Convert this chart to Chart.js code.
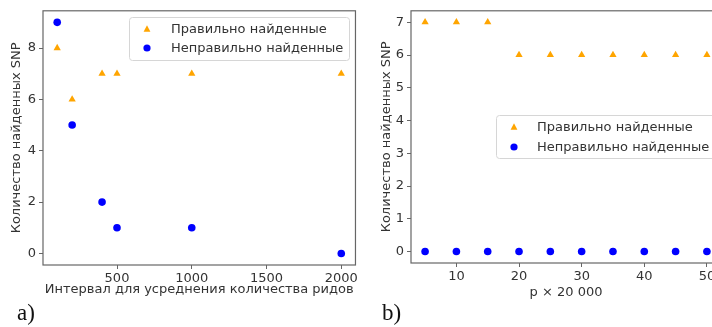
<!DOCTYPE html>
<html lang="ru">
<head>
    <meta charset="UTF-8">
    <title>SNP</title>
    <script src="https://cdn.jsdelivr.net/npm/chart.js"></script>
    <style>
        body {
            margin: 0;
            width: 712px;
            height: 327px;
            overflow: hidden;
            background: #fff;
            position: relative;
        }
        canvas {
            position: absolute;
            top: 0;
        }
        #chartA { left: 0; }
        #chartB { left: 360px; }
        .panel {
            position: absolute;
            top: 300px;
            font-family: "Liberation Serif", serif;
            font-size: 23px;
            color: #111;
        }
    </style>
</head>
<body>
    <canvas id="chartA" width="360" height="305"></canvas>
    <canvas id="chartB" width="370" height="305"></canvas>
    <div class="panel" style="left:17px">a)</div>
    <div class="panel" style="left:382px">b)</div>

    <script>
        // panel a)
        const intervals = [100, 200, 400, 500, 1000, 2000];
        const correctA = [8, 6, 7, 7, 7, 7];
        const wrongA = [9, 5, 2, 1, 1, 0];
        const xTicksA = [500, 1000, 1500, 2000];
        const yTicksA = [0, 2, 4, 6, 8];

        // panel b)
        const pValues = [5, 10, 15, 20, 25, 30, 35, 40, 45, 50];
        const correctB = [7, 7, 7, 6, 6, 6, 6, 6, 6, 6];
        const wrongB = [0, 0, 0, 0, 0, 0, 0, 0, 0, 0];
        const xTicksB = [10, 20, 30, 40, 50];
        const yTicksB = [0, 1, 2, 3, 4, 5, 6, 7];

        const labelCorrect = 'Правильно найденные';
        const labelWrong = 'Неправильно найденные';
        const ORANGE = '#ffa500';
        const BLUE = '#0000ff';
        const FRAME = '#666';
        const TEXT = '#333';

        Chart.defaults.font.family = '"DejaVu Sans", sans-serif';
        Chart.defaults.font.size = 13;
        Chart.defaults.color = TEXT;

        function pts(xs, ys) {
            return xs.map((x, i) => ({ x: x, y: ys[i] }));
        }

        // frame around the plot area (matplotlib spines)
        const framePlugin = {
            id: 'frame',
            afterDraw(chart) {
                const a = chart.chartArea, ctx = chart.ctx;
                ctx.save();
                ctx.strokeStyle = FRAME;
                ctx.lineWidth = 1.2;
                ctx.strokeRect(a.left, a.top, a.right - a.left, a.bottom - a.top);
                ctx.restore();
            }
        };

        // legend box drawn inside the plot, like plt.legend()
        const boxLegend = {
            id: 'boxLegend',
            afterDraw(chart, args, opts) {
                if (!opts.box) return;
                const ctx = chart.ctx, b = opts.box;
                ctx.save();
                ctx.fillStyle = 'rgba(255,255,255,0.85)';
                ctx.strokeStyle = '#d6d6d6';
                ctx.lineWidth = 1;
                ctx.beginPath();
                ctx.roundRect(b.x + 0.5, b.y + 0.5, b.w, b.h, 3);
                ctx.fill();
                ctx.stroke();
                ctx.font = '13px "DejaVu Sans", sans-serif';
                ctx.textBaseline = 'middle';
                chart.data.datasets.forEach((ds, i) => {
                    const y = b.rowY[i];
                    ctx.fillStyle = ds.backgroundColor;
                    ctx.beginPath();
                    if (ds.pointStyle === 'triangle') {
                        const r = 3.8;
                        ctx.moveTo(b.markerX, y - r);
                        ctx.lineTo(b.markerX + r * 0.9, y + r * 0.7);
                        ctx.lineTo(b.markerX - r * 0.9, y + r * 0.7);
                        ctx.closePath();
                    } else {
                        ctx.arc(b.markerX, y, 3.6, 0, Math.PI * 2);
                    }
                    ctx.fill();
                    ctx.fillStyle = TEXT;
                    ctx.fillText(ds.label, b.textX, y + 0.5);
                });
                ctx.restore();
            }
        };

        function makeChart(id, cfg) {
            return new Chart(document.getElementById(id), {
                type: 'scatter',
                data: {
                    datasets: [
                        {
                            label: labelCorrect,
                            data: pts(cfg.xs, cfg.correct),
                            pointStyle: 'triangle',
                            pointRadius: 4.2,
                            pointHoverRadius: 4.2,
                            backgroundColor: ORANGE,
                            borderColor: ORANGE,
                            borderWidth: 0
                        },
                        {
                            label: labelWrong,
                            data: pts(cfg.xs, cfg.wrong),
                            pointStyle: 'circle',
                            pointRadius: 3.8,
                            pointHoverRadius: 3.8,
                            backgroundColor: BLUE,
                            borderColor: BLUE,
                            borderWidth: 0
                        }
                    ]
                },
                options: {
                    responsive: false,
                    animation: false,
                    events: [],
                    layout: { padding: cfg.padding },
                    plugins: {
                        legend: { display: false },
                        tooltip: { enabled: false },
                        boxLegend: { box: cfg.legend }
                    },
                    scales: {
                        x: {
                            type: 'linear',
                            min: cfg.xMin,
                            max: cfg.xMax,
                            afterBuildTicks: s => { s.ticks = cfg.xTicks.map(v => ({ value: v })); },
                            afterFit: s => { s.height = cfg.xAxisH; },
                            border: { display: false },
                            grid: { drawOnChartArea: false, drawTicks: true, tickLength: 4, color: FRAME, lineWidth: 1 },
                            ticks: { padding: 2, color: TEXT, callback: v => String(v) },
                            title: {
                                display: true,
                                text: cfg.xTitle,
                                color: TEXT,
                                padding: { top: 0, bottom: cfg.xTitlePad }
                            }
                        },
                        y: {
                            type: 'linear',
                            min: cfg.yMin,
                            max: cfg.yMax,
                            afterBuildTicks: s => { s.ticks = cfg.yTicks.map(v => ({ value: v })); },
                            afterFit: s => { s.width = cfg.yAxisW; },
                            border: { display: false },
                            grid: { drawOnChartArea: false, drawTicks: true, tickLength: 4, color: FRAME, lineWidth: 1 },
                            ticks: { padding: 3, color: TEXT, callback: v => String(v) },
                            title: {
                                display: true,
                                text: 'Количество найденных SNP',
                                color: TEXT,
                                padding: { top: cfg.yTitlePad, bottom: 0 }
                            }
                        }
                    }
                },
                plugins: [framePlugin, boxLegend]
            });
        }

        makeChart('chartA', {
            xs: intervals, correct: correctA, wrong: wrongA,
            xTicks: xTicksA, yTicks: yTicksA,
            xMin: 5, xMax: 2095, yMin: -0.45, yMax: 9.45,
            padding: { top: 10, right: 3, left: 0, bottom: 0 },
            xAxisH: 40, yAxisW: 43, xTitlePad: 7.2, yTitlePad: 9.2,
            xTitle: 'Интервал для усреднения количества ридов',
            legend: { x: 129, y: 17, w: 220, h: 43, markerX: 147, rowY: [29, 48], textX: 171 }
        });

        makeChart('chartB', {
            xs: pValues, correct: correctB, wrong: wrongB,
            xTicks: xTicksB, yTicks: yTicksB,
            xMin: 2.75, xMax: 52.25, yMin: -0.35, yMax: 7.35,
            padding: { top: 10, right: 9, left: 0, bottom: 0 },
            xAxisH: 42, yAxisW: 51, xTitlePad: 4.5, yTitlePad: 18.9,
            xTitle: 'p × 20 000',
            legend: { x: 136, y: 115, w: 240, h: 43, markerX: 154, rowY: [127, 147], textX: 177 }
        });
    </script>
</body>
</html>
